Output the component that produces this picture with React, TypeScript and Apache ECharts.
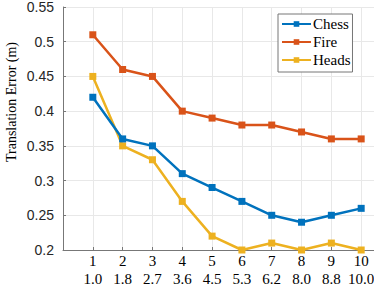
import React, { useEffect, useRef } from "react";
import * as echarts from "echarts";

const categories = [1, 2, 3, 4, 5, 6, 7, 8, 9, 10];
const subLabels = ["1.0", "1.8", "2.7", "3.6", "4.5", "5.3", "6.2", "8.0", "8.8", "10.0"];
const chess = [0.42, 0.36, 0.35, 0.31, 0.29, 0.27, 0.25, 0.24, 0.25, 0.26];
const fire = [0.51, 0.46, 0.45, 0.4, 0.39, 0.38, 0.38, 0.37, 0.36, 0.36];
const heads = [0.45, 0.35, 0.33, 0.27, 0.22, 0.2, 0.21, 0.2, 0.21, 0.2];
const yTitle = "Translation Error (m)";

const SERIF = "'Liberation Serif', 'DejaVu Serif', serif";
const SANS = "'Liberation Sans', Arial, sans-serif";

function mk(name: string, vals: number[], color: string) {
  return {
    name,
    type: "line",
    data: categories.map((c, i) => [c, vals[i]]),
    symbol: "rect",
    symbolSize: 7,
    lineStyle: { width: 2.5, color },
    itemStyle: { color },
    z: name === "Heads" ? 3 : name === "Chess" ? 4 : 2,
  };
}

export default function App() {
  const ref = useRef<HTMLDivElement>(null);
  useEffect(() => {
    if (!ref.current) return;
    const chart = echarts.init(ref.current, undefined, { renderer: "svg" });
    chart.setOption({
      animation: false,
      backgroundColor: "#fff",
      grid: { left: 63, top: 7, bottom: 36, width: 328, containLabel: false, outerBoundsMode: "none" },
      graphic: [
        {
          type: "text",
          x: 11,
          y: 102,
          rotation: Math.PI / 2,
          style: {
            text: yTitle,
            fontFamily: SERIF,
            fontSize: 14,
            fill: "#000",
            align: "center",
            verticalAlign: "middle",
          },
        },
      ],
      legend: {
        orient: "vertical",
        left: 278,
        top: 14,
        itemWidth: 29,
        itemHeight: 7,
        itemGap: 0,
        padding: [1, 2, 3, 3],
        backgroundColor: "#fff",
        borderColor: "#777",
        borderWidth: 1,
        textStyle: { fontFamily: SERIF, fontSize: 15, lineHeight: 18, color: "#000", padding: [0, 0, 0, -3] },
        data: ["Chess", "Fire", "Heads"],
      },
      xAxis: {
        type: "value",
        min: 0,
        max: 11,
        interval: 1,
        axisLine: { show: true, onZero: false, lineStyle: { color: "#777", width: 1 } },
        axisTick: { show: true, inside: true, length: 3, lineStyle: { color: "#777" } },
        splitLine: { show: true, lineStyle: { color: "#e8e8e8", width: 1 } },
        axisLabel: {
          margin: 2,
          formatter: (v: number) =>
            v >= 1 && v <= 10 ? `{a|${v}}\n{b|${subLabels[v - 1]}}` : "",
          rich: {
            a: { fontFamily: SERIF, fontSize: 15, color: "#000", lineHeight: 18 },
            b: { fontFamily: SERIF, fontSize: 15, color: "#000", lineHeight: 18 },
          },
        },
      },
      yAxis: {
        type: "value",
        min: 0.2,
        max: 0.55,
        interval: 0.05,
        axisLine: { show: true, lineStyle: { color: "#777", width: 1 } },
        axisTick: { show: true, inside: true, length: 3, lineStyle: { color: "#777" } },
        splitLine: { show: true, lineStyle: { color: "#e8e8e8", width: 1 } },
        axisLabel: {
          margin: 9,
          fontFamily: SANS,
          fontSize: 14,
          color: "#262626",
          formatter: (v: number) => String(parseFloat(v.toFixed(2))),
        },
      },
      series: [mk("Chess", chess, "#0072BD"), mk("Fire", fire, "#D95319"), mk("Heads", heads, "#EDB120")],
    });
    return () => chart.dispose();
  }, []);
  return <div ref={ref} style={{ width: 374, height: 286, position: "absolute", left: 0, top: 0 }} />;
}
